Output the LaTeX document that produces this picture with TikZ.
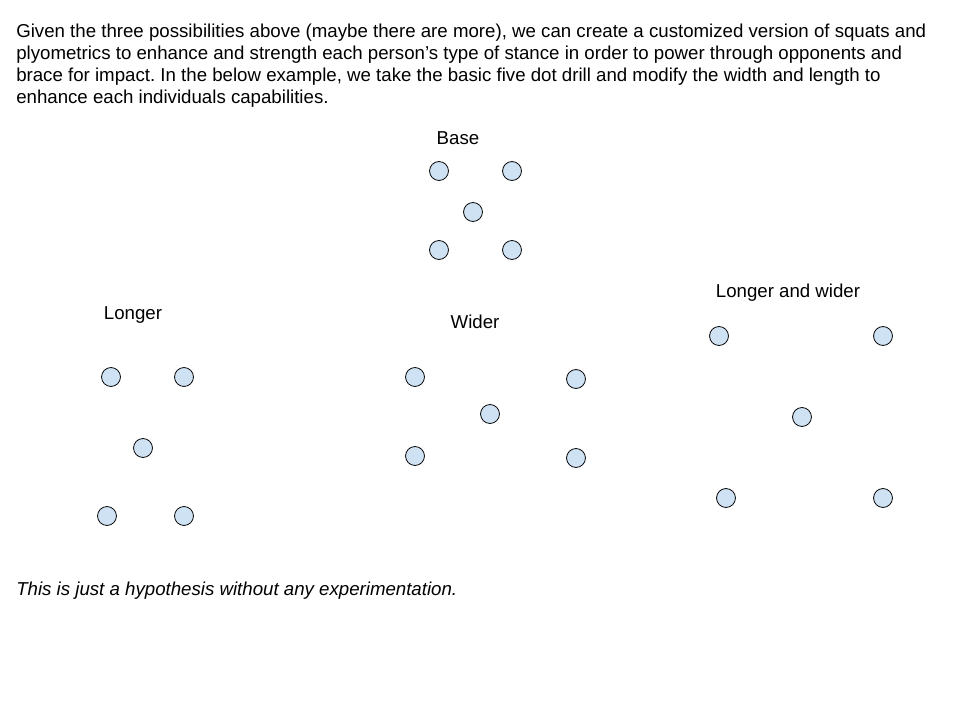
\documentclass[tikz,border=0pt]{standalone}
\usepackage{fontspec}
\setmainfont{Liberation Sans}
\frenchspacing
\definecolor{dotblue}{HTML}{CFE2F3}
\tikzset{
	dot/.style={circle, draw=black, line width=0.6pt, fill=dotblue, minimum size=14.2pt, inner sep=0pt},
	lbl/.style={anchor=base, inner sep=0pt, font=\fontsize{14}{16.8}\selectfont}
}

\begin{document}
\begin{tikzpicture}[x=0.75pt, y=-0.75pt]
	\useasboundingbox (0,0) rectangle (960,720);
	\node[anchor=base west, inner sep=0pt, align=left, font=\fontsize{14}{16.7}\selectfont] (intro) at (16,104) {Given the three possibilities above (maybe there are more), we can create a customized version of squats and\\plyometrics to enhance and strength each person’s type of stance in order to power through opponents and\\brace for impact. In the below example, we take the basic five dot drill and modify the width and length to\\enhance each individuals capabilities.};
%% base
	\node[lbl] (base) at (458,145) {Base};
	\node[dot] (b1) at (439,171) {};
	\node[dot] (b2) at (512,171) {};
	\node[dot] (b3) at (473,212) {};
	\node[dot] (b4) at (439,250) {};
	\node[dot] (b5) at (512,250) {};
%% longer
	\node[lbl] (longer) at (133,320) {Longer};
	\node[dot] (l1) at (111,377) {};
	\node[dot] (l2) at (184,377) {};
	\node[dot] (l3) at (143,448) {};
	\node[dot] (l4) at (107,516) {};
	\node[dot] (l5) at (184,516) {};
%% wider
	\node[lbl] (wider) at (475,328) {Wider};
	\node[dot] (w1) at (415,377) {};
	\node[dot] (w2) at (576,379) {};
	\node[dot] (w3) at (490,414) {};
	\node[dot] (w4) at (415,456) {};
	\node[dot] (w5) at (576,458) {};
%% longer and wider
	\node[lbl] (both) at (788,297) {Longer and wider};
	\node[dot] (lw1) at (719,336) {};
	\node[dot] (lw2) at (883,336) {};
	\node[dot] (lw3) at (802,417) {};
	\node[dot] (lw4) at (726,498) {};
	\node[dot] (lw5) at (883,498) {};
	\node[anchor=base west, inner sep=0pt, font=\fontsize{14}{16.8}\selectfont\itshape] (note) at (16,595) {This is just a hypothesis without any experimentation.};
\end{tikzpicture}
\end{document}
